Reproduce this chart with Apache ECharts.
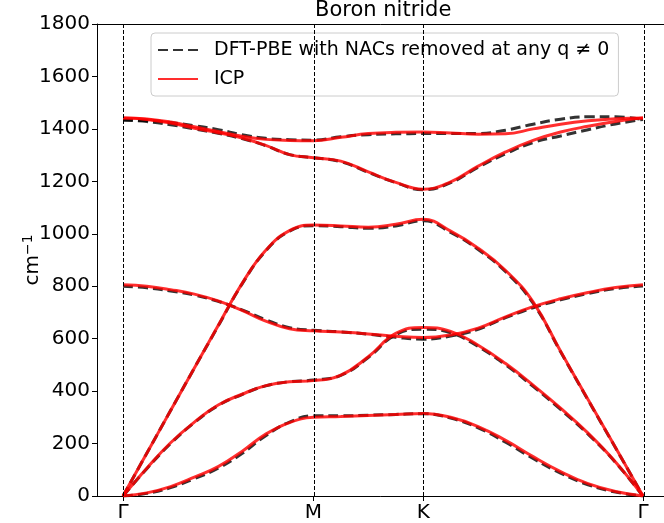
<!DOCTYPE html>
<html><head><meta charset="utf-8">
<script src="https://cdn.jsdelivr.net/npm/echarts@6.0.0/dist/echarts.min.js"></script>
<style>html,body{margin:0;padding:0;background:#fff}#c{width:664px;height:523px}</style>
</head><body><div id="c"></div>
<script>
// q-path distance (Γ=0, M=0.5774, K=0.9107, Γ=1.5774)
const qDist = [0, 0.0722, 0.1444, 0.2165, 0.2887, 0.3609, 0.4330, 0.5052, 0.5774,
  0.6607, 0.7440, 0.8274, 0.9107,
  0.9940, 1.0774, 1.1607, 1.2440, 1.3274, 1.4107, 1.4940, 1.5774];
const kPos = [0, 0.5774, 0.9107, 1.5774];
const kLabels = ['Γ', 'M', 'K', 'Γ'];
const yTicks = [0, 200, 400, 600, 800, 1000, 1200, 1400, 1600, 1800];

// DFT-PBE (NACs removed) bands, cm^-1
const dftZA = [0, 10, 32, 66, 106, 162, 230, 282, 306, 306, 308, 311, 314, 297, 260, 205, 143, 87, 43, 15, 0];
const dftTA = [0, 104, 200, 280, 345, 387, 420, 436, 442, 460, 528, 615, 636, 622, 570, 500, 418, 330, 236, 128, 0];
const dftLA = [0, 163, 326, 488, 648, 808, 935, 1010, 1031, 1027, 1021, 1030, 1050, 1005, 940, 855, 735, 550, 366, 184, 0];
const dftZO = [800, 794, 782, 766, 742, 710, 672, 642, 632, 626, 617, 605, 598, 610, 636, 680, 718, 748, 772, 791, 801];
const dftTO = [1434, 1428, 1416, 1400, 1383, 1363, 1336, 1302, 1290, 1275, 1234, 1195, 1168, 1195, 1254, 1305, 1348, 1373, 1397, 1419, 1436];
const dftLO = [1434, 1432, 1424, 1412, 1397, 1378, 1364, 1359, 1357, 1370, 1378, 1381, 1382, 1382, 1382, 1395, 1418, 1437, 1446, 1446, 1436];

// ICP bands, cm^-1
const icpZA = [0, 12, 36, 72, 112, 170, 236, 280, 300, 303, 307, 311, 315, 300, 265, 212, 150, 93, 47, 17, 0];
const icpTA = [0, 106, 203, 282, 347, 388, 421, 436, 440, 461, 531, 620, 643, 628, 575, 505, 423, 335, 240, 130, 0];
const icpLA = [0, 163, 326, 488, 650, 810, 937, 1012, 1033, 1030, 1025, 1036, 1055, 1010, 945, 860, 740, 552, 368, 185, 0];
const icpZO = [806, 800, 787, 770, 744, 708, 667, 638, 630, 625, 618, 609, 604, 614, 640, 683, 722, 752, 776, 795, 806];
const icpTO = [1442, 1436, 1422, 1402, 1385, 1365, 1337, 1302, 1290, 1277, 1236, 1196, 1170, 1198, 1258, 1312, 1356, 1388, 1410, 1428, 1442];
const icpLO = [1442, 1438, 1426, 1408, 1390, 1372, 1360, 1356, 1355, 1368, 1382, 1387, 1388, 1384, 1380, 1381, 1400, 1418, 1431, 1439, 1442];

const dftName = 'DFT-PBE with NACs removed at any q ≠ 0';
const icpName = 'ICP';
const FONT = 'DejaVu Sans';

function band(name, vals, style, extra) {
  return Object.assign({
    name: name, type: 'line', symbol: 'none', showSymbol: false, smooth: 0.45,
    data: qDist.map((q, i) => [q, vals[i]]), lineStyle: style, itemStyle: {color: style.color},
    emphasis: {disabled: true}, silent: true, animation: false
  }, extra || {});
}
const dftStyle = {color: 'rgba(0,0,0,0.8)', width: 3, type: [10, 5]};
const icpStyle = {color: 'rgba(255,0,0,0.82)', width: 3, type: 'solid'};

const series = [];
[dftZA, dftTA, dftLA, dftZO, dftTO, dftLO].forEach((b, i) => {
  series.push(band(dftName, b, dftStyle, i === 0 ? {
    markLine: {
      silent: true, symbol: ['none', 'none'], animation: false,
      label: {show: false},
      lineStyle: {color: '#000', width: 1, type: [4, 2]},
      data: kPos.map(p => ({xAxis: p}))
    }
  } : {}));
});
[icpZA, icpTA, icpLA, icpZO, icpTO, icpLO].forEach(b => series.push(band(icpName, b, icpStyle)));

const chart = echarts.init(document.getElementById('c'), null, {renderer: 'canvas'});
chart.setOption({
  backgroundColor: '#fff',
  animation: false,
  title: {
    text: 'Boron nitride', left: 315, top: 0, padding: 0,
    textStyle: {fontFamily: FONT, fontSize: 21, fontWeight: 'normal', color: '#000'}
  },
  legend: {
    data: [dftName, icpName], orient: 'vertical', left: 151, top: 33,
    padding: [6, 9, 6, 6], itemGap: 7, itemWidth: 40, itemHeight: 14,
    backgroundColor: 'rgba(255,255,255,0.8)', borderColor: '#cccccc', borderWidth: 1, borderRadius: 4,
    selectedMode: false,
    itemStyle: {opacity: 0, borderWidth: 0},
    textStyle: {fontFamily: FONT, fontSize: 19, color: '#000', lineHeight: 22, padding: [0, 0, 0, 11]}
  },
  grid: {left: 97, width: 572, top: 24, height: 472, show: false,
    containLabel: false, outerBoundsMode: 'none'},
  xAxis: [{
    type: 'value', min: -0.0789, max: 1.6563,
    axisLine: {show: true, onZero: false, lineStyle: {color: '#000', width: 1}},
    splitLine: {show: false},
    axisTick: {show: true, inside: false, length: 5, lineStyle: {color: '#000'}, customValues: kPos},
    axisLabel: {
      customValues: kPos, margin: 7, color: '#000', fontFamily: FONT, fontSize: 20,
      formatter: v => { const i = kPos.findIndex(p => Math.abs(p - v) < 1e-6); return i >= 0 ? kLabels[i] : ''; }
    }
  }, {
    type: 'value', position: 'top', min: -0.0789, max: 1.6563,
    axisLine: {show: true, onZero: false, lineStyle: {color: '#000', width: 1}},
    splitLine: {show: false}, axisTick: {show: false}, axisLabel: {show: false}
  }],
  yAxis: {
    type: 'value', min: 0, max: 1800, interval: 200,
    name: 'cm{sup|−1}', nameLocation: 'middle', nameRotate: 90, nameGap: 53, nameMoveOverlap: false,
    nameTextStyle: {fontFamily: FONT, fontSize: 20, color: '#000',
      rich: {sup: {fontFamily: FONT, fontSize: 14, color: '#000', verticalAlign: 'top', padding: [0, 0, 9, 0]}}},
    axisLine: {show: true, onZero: false, lineStyle: {color: '#000', width: 1}},
    splitLine: {show: false},
    axisTick: {show: true, inside: false, length: 5, lineStyle: {color: '#000'}},
    axisLabel: {margin: 7, color: '#000', fontFamily: FONT, fontSize: 20,
      formatter: v => yTicks.includes(v) ? String(v) : ''}
  },
  graphic: [{type: 'rect', z: 100, silent: true, shape: {x: 652, y: 25, width: 12, height: 470}, style: {fill: '#fff'}}],
  series: series
});
</script></body></html>
